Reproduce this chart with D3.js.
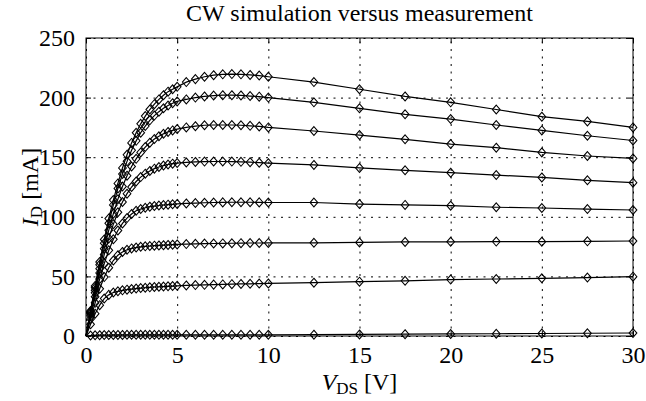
<!DOCTYPE html>
<html>
<head>
<meta charset="utf-8">
<script src="https://cdn.jsdelivr.net/npm/d3@7"></script>
<style>
  body { margin: 0; background: #fff; }
  svg { display: block; }
  .grid line { stroke: #000; stroke-width: 1; stroke-dasharray: 2,5.5; }
  .grid .domain { display: none; }
  .axis .domain { display: none; }
  .axis line { stroke: #000; }
</style>
</head>
<body>
<div id="chart"></div>
<script>
var serif = '"Liberation Serif", Tinos, "Nimbus Roman", "DejaVu Serif", serif';

// drain voltage sweep (V)
var vds = [0, 0.25, 0.5, 0.75, 1, 1.25, 1.5, 1.75, 2, 2.25, 2.5, 2.75, 3, 3.25, 3.5, 3.75, 4, 4.25, 4.5, 4.75, 5,
  5.5, 6, 6.5, 7, 7.5, 8, 8.5, 9, 9.5, 10,
  12.5, 15, 17.5, 20, 22.5, 25, 27.5, 30];

// drain current (mA), one array per gate step, top to bottom
var id1 = [0, 21, 42, 62, 81, 98.5, 114, 128, 141, 152, 162, 170.5, 178, 184.5, 190, 194.5, 198.5, 202, 205, 207, 209,
  213, 215.5, 217.5, 218.8, 219.5, 219.7, 219.5, 219, 218.5, 217.5,
  213, 207, 201, 196, 190, 184, 180, 175];
var id2 = [0, 20.4, 40.5, 59.7, 77.9, 94.6, 110, 123.8, 135.9, 146.5, 155.8, 163.7, 170.5, 176.1, 180.9, 184.9, 188.2, 191, 193.3, 195.3, 196.8,
  198.5, 200, 201, 201.7, 202, 202, 201.8, 201.3, 200.8, 200,
  196, 191, 186, 182, 177, 172.5, 168, 164];
var id3 = [0, 19.4, 38.4, 56.5, 73.3, 88.8, 102.6, 114.8, 125.4, 134.5, 142.2, 148.6, 154, 158.5, 162.2, 165.2, 167.6, 169.6, 171.2, 172.5, 173.6,
  175, 176, 176.8, 177, 177, 177, 176.8, 176.3, 175.8, 175,
  172, 168.6, 165, 161, 158, 154, 151, 149];
var id4 = [0, 18.4, 36.2, 52.9, 68.3, 81.9, 93.8, 103.8, 112.4, 119.4, 125, 129.6, 133.3, 136.2, 138.5, 140.4, 141.8, 143, 143.9, 144.6, 145.1,
  145.6, 146, 146.3, 146.4, 146.4, 146.3, 146.1, 145.8, 145.4, 145,
  143.5, 141, 139, 137, 135, 133, 130.6, 128.6];
var id5 = [0, 16.9, 33, 47.8, 60.8, 71.9, 81.1, 88.5, 94.4, 98.9, 102.4, 105.1, 106.5, 107.6, 108.5, 109, 109.5, 109.9, 110.2, 110.5, 110.8,
  111.2, 111.5, 111.8, 112, 112.1, 112.2, 112.2, 112.2, 112.1, 112,
  112, 110.7, 110, 109.3, 108, 107.4, 106.5, 105.7];
var id6 = [0, 14.3, 27.8, 39.6, 49.4, 57.3, 63.3, 67.8, 70.5, 72.3, 73.5, 74.2, 74.8, 75.2, 75.5, 75.8, 76, 76.2, 76.4, 76.6, 76.8,
  77.1, 77.3, 77.5, 77.6, 77.7, 77.8, 77.9, 78, 78, 78.1,
  78.2, 78.5, 78.9, 79, 79.2, 79.1, 79.4, 79.7];
var id7 = [0, 9.8, 18.7, 25.9, 31.4, 34.5, 36.5, 37.5, 38.3, 38.9, 39.4, 39.8, 40.2, 40.5, 40.8, 41.1, 41.3, 41.5, 41.7, 41.9, 42.1,
  42.4, 42.7, 42.9, 43.1, 43.3, 43.5, 43.7, 43.8, 44, 44.1,
  44.7, 45.6, 46.3, 47.3, 47.8, 48.4, 49, 49.8];
var id8 = [0, 0.4, 0.6, 0.7, 0.8, 0.8, 0.9, 0.9, 0.9, 1, 1, 1, 1, 1, 1, 1, 1, 1, 1, 1, 1,
  1, 1, 1, 1, 1, 1, 1, 1, 1, 1,
  1.1, 1.3, 1.5, 1.7, 1.9, 2.1, 2.3, 2.5];

var curves = [id1, id2, id3, id4, id5, id6, id7, id8];

var xTicks = [0, 5, 10, 15, 20, 25, 30];
var yTicks = [0, 50, 100, 150, 200, 250];

var titleText = "CW simulation versus measurement";

// layout
var W = 646, H = 401;
var margin = {left: 86, right: 13, top: 38, bottom: 65};
var w = W - margin.left - margin.right,
    h = H - margin.top - margin.bottom;

var svg = d3.select("#chart").append("svg")
  .attr("width", W)
  .attr("height", H)
  .attr("font-family", serif);

var g = svg.append("g")
  .attr("transform", "translate(" + margin.left + "," + margin.top + ")");

var x = d3.scaleLinear().domain([0, 30]).range([0, w]);
var y = d3.scaleLinear().domain([0, 250]).range([h, 0]);

// dotted grid
g.append("g")
  .attr("class", "grid")
  .attr("transform", "translate(0," + h + ")")
  .call(d3.axisBottom(x).tickValues(xTicks).tickSize(-h).tickFormat(""));
g.append("g")
  .attr("class", "grid")
  .call(d3.axisLeft(y).tickValues(yTicks).tickSize(-w).tickFormat(""));

// axes with inward ticks
var xAx = g.append("g")
  .attr("class", "axis xAxis")
  .attr("transform", "translate(0," + h + ")")
  .call(d3.axisBottom(x).tickValues(xTicks).tickSizeInner(-5).tickSizeOuter(0).tickPadding(10));
xAx.attr("font-family", serif).attr("font-size", 24);

var yAx = g.append("g")
  .attr("class", "axis yAxis")
  .call(d3.axisLeft(y).tickValues(yTicks).tickSizeInner(-5).tickSizeOuter(0).tickPadding(11));
yAx.attr("font-family", serif).attr("font-size", 24);

g.append("g")
  .attr("class", "axis")
  .call(d3.axisTop(x).tickValues(xTicks).tickSizeInner(-5).tickSizeOuter(0).tickFormat(""));
g.append("g")
  .attr("class", "axis")
  .attr("transform", "translate(" + w + ",0)")
  .call(d3.axisRight(y).tickValues(yTicks).tickSizeInner(-5).tickSizeOuter(0).tickFormat(""));

// simulation lines
var line = d3.line()
  .x(function(d, i) { return x(vds[i]); })
  .y(function(d) { return y(d); });

g.selectAll(".sim-line")
  .data(curves)
  .enter().append("path")
  .attr("class", "sim-line")
  .attr("d", line)
  .attr("fill", "none")
  .attr("stroke", "#000")
  .attr("stroke-width", 1.2);

// measurement markers
var diamond = d3.symbol().type(d3.symbolDiamond2).size(38);

var pts = [];
curves.forEach(function(c) {
  c.forEach(function(v, i) { if (i > 0) pts.push({v: vds[i], id: v}); });
});

g.selectAll(".meas")
  .data(pts)
  .enter().append("path")
  .attr("class", "meas")
  .attr("d", diamond)
  .attr("transform", function(d) { return "translate(" + x(d.v) + "," + y(d.id) + ") scale(1,1.15)"; })
  .attr("fill", "none")
  .attr("stroke", "#000")
  .attr("stroke-width", 1);

// box
g.append("rect")
  .attr("width", w)
  .attr("height", h)
  .attr("fill", "none")
  .attr("stroke", "#000")
  .attr("stroke-width", 1);

// title
svg.append("text")
  .attr("x", margin.left + w / 2)
  .attr("y", 21)
  .attr("text-anchor", "middle")
  .attr("font-family", serif)
  .attr("font-size", 24)
  .text(titleText);

// x label
var xl = svg.append("text")
  .attr("x", margin.left + w / 2)
  .attr("y", 390)
  .attr("text-anchor", "middle")
  .attr("font-family", serif)
  .attr("font-size", 24);
xl.append("tspan").style("font-style", "italic").text("V");
xl.append("tspan").attr("dy", 4).attr("font-size", 17).text("DS");
xl.append("tspan").attr("dy", -4).text(" [V]");

// y label
var yl = svg.append("text")
  .attr("transform", "translate(38," + (margin.top + h / 2) + ") rotate(-90)")
  .attr("text-anchor", "middle")
  .attr("font-family", serif)
  .attr("font-size", 24);
yl.append("tspan").style("font-style", "italic").text("I");
yl.append("tspan").attr("dy", 4).attr("font-size", 17).text("D");
yl.append("tspan").attr("dy", -4).text(" [mA]");
</script>
</body>
</html>
